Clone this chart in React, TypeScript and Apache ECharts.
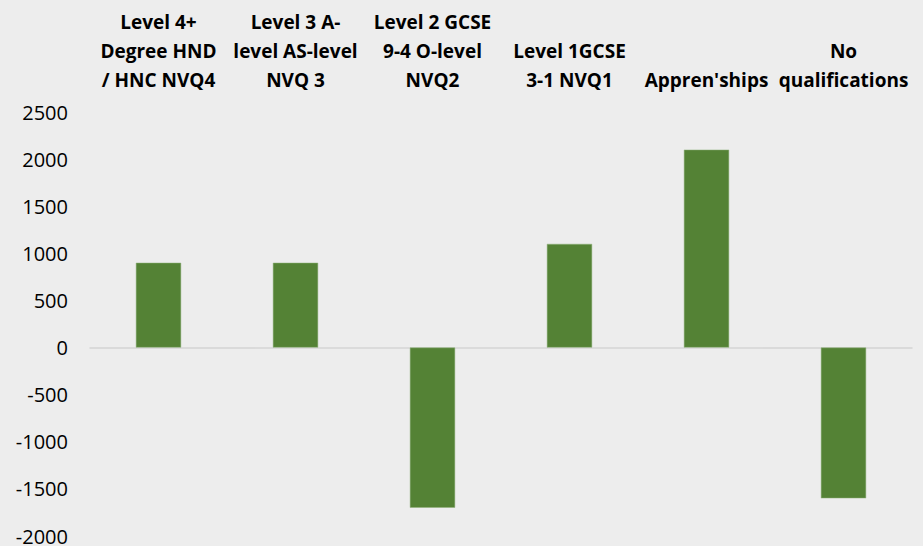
import React, { useEffect, useRef } from "react";
import * as echarts from "echarts";

const categories = [
  "Level 4+\nDegree HND\n/ HNC NVQ4",
  "Level 3 A-\nlevel AS-level\nNVQ 3",
  "Level 2 GCSE\n9-4 O-level\nNVQ2",
  "Level 1GCSE\n3-1 NVQ1",
  "Appren'ships",
  "No\nqualifications",
];
const values = [900, 900, -1700, 1100, 2100, -1600];
const yMin = -2000;
const yMax = 2500;
const yInterval = 500;

export default function App() {
  const ref = useRef<HTMLDivElement>(null);
  useEffect(() => {
    const chart = echarts.init(ref.current!, null, { renderer: "svg" });
    chart.setOption({
      animation: false,
      backgroundColor: "#ededed",
      grid: { left: 90, right: 11, top: 112, bottom: 9 },
      xAxis: {
        type: "category",
        position: "top",
        data: categories,
        axisLine: { onZero: true, lineStyle: { color: "#d4d4d4", width: 1.5 } },
        axisTick: { show: false },
        axisLabel: {
          interval: 0,
          margin: 18,
          color: "#000",
          fontFamily: "Open Sans",
          fontWeight: "bold",
          fontSize: 19,
          lineHeight: 29,
        },
      },
      yAxis: {
        type: "value",
        min: yMin,
        max: yMax,
        interval: yInterval,
        splitLine: { show: false },
        axisLine: { show: false },
        axisTick: { show: false },
        axisLabel: {
          margin: 22,
          color: "#000",
          fontFamily: "Open Sans",
          fontSize: 20,
          formatter: (v: number) => String(v),
        },
      },
      series: [
        {
          type: "bar",
          data: values,
          barWidth: "33%",
          itemStyle: { color: "#548235", borderColor: "#8fb07a", borderWidth: 0.5 },
        },
      ],
    });
    return () => chart.dispose();
  }, []);
  return (
    <div
      ref={ref}
      style={{ position: "fixed", left: 0, top: 0, width: 923, height: 546 }}
    />
  );
}
